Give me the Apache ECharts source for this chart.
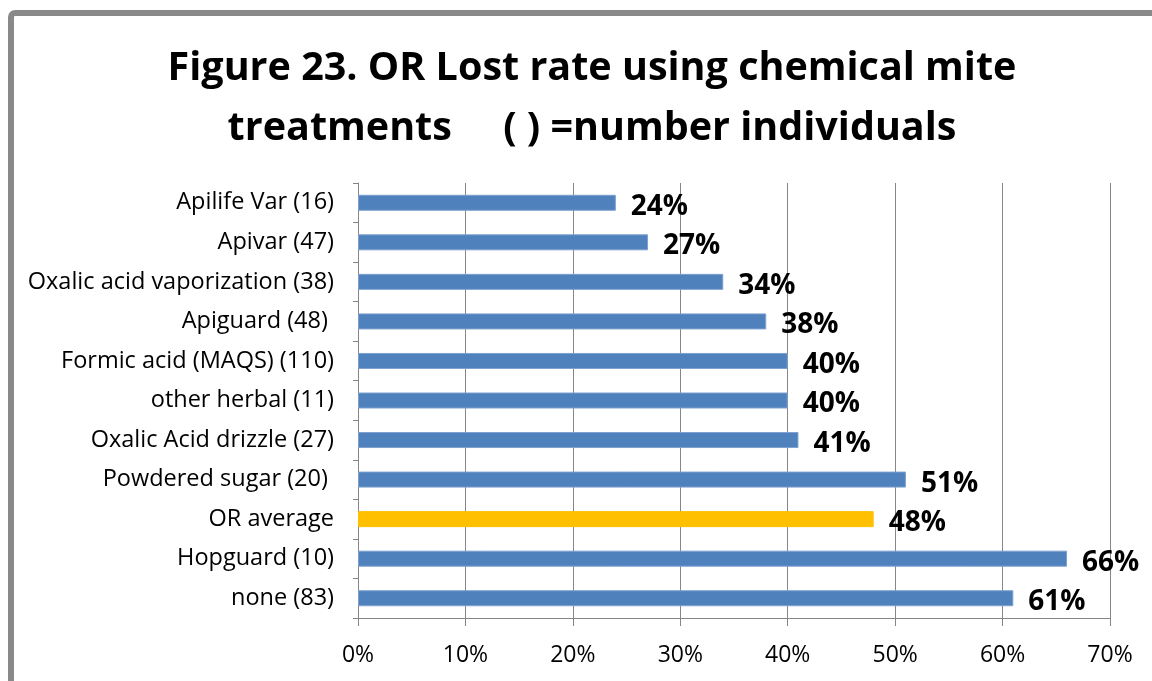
<!DOCTYPE html>
<html><head><meta charset="utf-8">
<script src="https://cdn.jsdelivr.net/npm/echarts@6/dist/echarts.min.js"></script>
<style>html,body{margin:0;padding:0;background:#fff}#c{width:1152px;height:681px}</style>
</head><body><div id="c"></div>
<script>
const categories = ["Apilife Var (16)","Apivar (47)","Oxalic acid vaporization (38)","Apiguard (48) ","Formic acid (MAQS) (110)","other herbal (11)","Oxalic Acid drizzle (27)","Powdered sugar (20) ","OR average","Hopguard (10)","none (83)"];
const values = [24,27,34,38,40,40,41,51,48,66,61];
const highlight = ["OR average"];
const xTicks = [0,10,20,30,40,50,60,70];
const FONT = '"Open Sans", Lato, sans-serif';
const chart = echarts.init(document.getElementById('c'), null, {renderer:'canvas'});
chart.setOption({
  backgroundColor:'#fff',
  animation:false,
  title:{
    text:'Figure 23. OR Lost rate using chemical mite\ntreatments     ( ) =number individuals',
    left:587, textAlign:'center', top:34,
    textStyle:{fontFamily:FONT,fontWeight:'bold',fontSize:39.5,lineHeight:60,color:'#000'}
  },
  graphic:[{type:'rect',shape:{x:11,y:13,width:1200,height:720,r:4},style:{fill:'none',stroke:'#898989',lineWidth:6},z:100}],
  grid:{left:358,right:42,top:183,bottom:63,containLabel:false},
  xAxis:{type:'value',min:0,max:70,interval:10,
    axisLine:{show:true,lineStyle:{color:'#868686',width:1}},
    axisTick:{show:true,length:8,lineStyle:{color:'#868686'}},
    splitLine:{show:true,lineStyle:{color:'#868686',width:1}},
    axisLabel:{formatter:v=>v+'%',fontFamily:FONT,fontSize:23,color:'#000',margin:26}
  },
  yAxis:{type:'category',data:categories,inverse:true,
    axisLine:{show:true,lineStyle:{color:'#868686'}},
    axisTick:{show:true,length:5,lineStyle:{color:'#868686'}},
    axisLabel:{fontFamily:FONT,fontSize:23.5,color:'#000',margin:24}
  },
  series:[{type:'bar',barWidth:16,
    data:values.map((v,i)=>({value:v,itemStyle:{color:highlight.includes(categories[i])?'#FFC000':'#4F81BD',borderColor:highlight.includes(categories[i])?'#FFC000':'#7DA0CF',borderWidth:1}})),
    label:{show:true,position:'right',distance:15,formatter:p=>p.value+'%',fontFamily:FONT,fontWeight:'bold',fontSize:28,color:'#000',offset:[0,4]}
  }]
});
</script></body></html>
